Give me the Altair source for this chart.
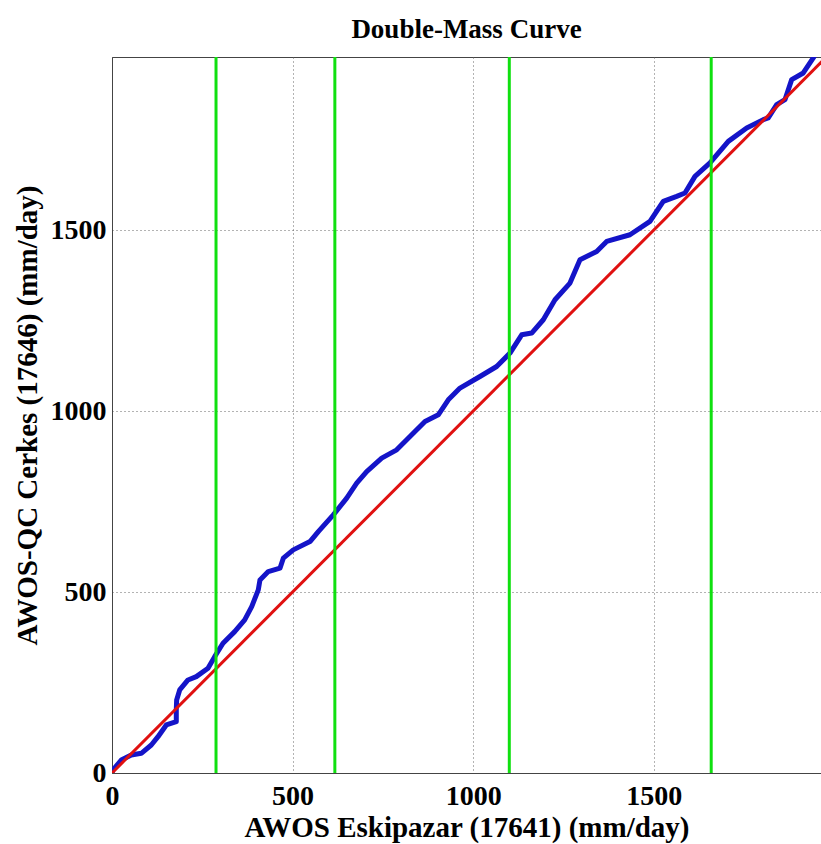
import altair as alt
import pandas as pd

# Cumulative precipitation (double-mass) readings
x_vals = [0, 2.8, 25.7, 53.4, 81.1, 108.8, 127.4, 150.3, 178, 178, 179, 187.4, 210.4, 233.4,
          265.8, 284.3, 307.3, 339.7, 367.4, 386.8, 405, 409.7, 432.7, 465.1, 474.3, 501.9,
          548.2, 571.2, 612.7, 649.8, 677.5, 705.1, 746.7, 788.2, 825, 866.6, 903.4, 931.1,
          963.5, 1018.8, 1065, 1101.9, 1134.3, 1162, 1194.1, 1226.5, 1268, 1295.7, 1341.9,
          1369.6, 1434.1, 1489.5, 1526.3, 1563.4, 1586.4, 1614.1, 1655.6, 1706.3, 1757.2,
          1803.2, 1817, 1840.3, 1863.2, 1881.8, 1913.9, 1941.6, 1955]
y_vals = [0, 8.3, 35.9, 49.8, 54.4, 77.4, 100.3, 132.7, 141.8, 174, 201.8, 229.4, 257, 266.2,
          289.4, 321.4, 358.5, 390.5, 422.9, 459.6, 505.8, 533.4, 556.4, 565.8, 593.4, 616.4,
          639.3, 667, 713.1, 759.3, 800.7, 832.8, 869.8, 892.8, 929.5, 971, 989.5, 1031,
          1063.3, 1095.4, 1123, 1160, 1210.6, 1215.3, 1252.1, 1307.4, 1353.5, 1417.9, 1440.8,
          1468.5, 1487, 1523.8, 1579, 1592.9, 1602.3, 1648.2, 1685.2, 1744.9, 1781.9,
          1804.9, 1809.6, 1846.3, 1860.1, 1915.4, 1933.9, 1975.5, 1998]

# 1:1 reference line and break-point markers
ref_x = [0, 2000]
ref_y = [0, 2000]
breaks = [288, 617, 1100, 1659]

x_ticks = [0, 500, 1000, 1500]
y_ticks = [0, 500, 1000, 1500]
X_MAX = 1963
Y_MAX = 1978

curve = pd.DataFrame({"x": x_vals, "y": y_vals, "order": list(range(len(x_vals)))})
ref = pd.DataFrame({"x": ref_x, "y": ref_y})
brk = pd.DataFrame({"x": breaks})

FONT = "Liberation Serif"

xscale = alt.Scale(domain=[0, X_MAX], nice=False, zero=False)
yscale = alt.Scale(domain=[0, Y_MAX], nice=False, zero=False)

x_axis = alt.Axis(
    title="AWOS Eskipazar (17641) (mm/day)", values=x_ticks, format="d",
    grid=True, gridDash=[1, 3], gridColor="#666666", gridWidth=1,
    ticks=False, labelPadding=9, titlePadding=3,
    domainColor="#444444", labelFlush=False,
)
y_axis = alt.Axis(
    title="AWOS-QC Cerkes (17646) (mm/day)", values=y_ticks, format="d",
    grid=True, gridDash=[1, 3], gridColor="#666666", gridWidth=1,
    ticks=False, labelPadding=6, titlePadding=8,
    domainColor="#444444", labelFlush=False,
)

blue = alt.Chart(curve).mark_line(color="#1414c8", strokeWidth=5, clip=True, strokeJoin="round").encode(
    x=alt.X("x:Q", scale=xscale, axis=x_axis),
    y=alt.Y("y:Q", scale=yscale, axis=y_axis),
    order="order:Q",
)
red = alt.Chart(ref).mark_line(color="#e01010", strokeWidth=3, clip=True).encode(
    x=alt.X("x:Q", scale=xscale),
    y=alt.Y("y:Q", scale=yscale),
)
green = alt.Chart(brk).mark_rule(color="#10e010", strokeWidth=3).encode(
    x=alt.X("x:Q", scale=xscale),
)

chart = alt.layer(blue, red, green).properties(
    width=709, height=716,
    title=alt.TitleParams("Double-Mass Curve", font=FONT, fontSize=27, fontWeight="bold",
                          color="black", offset=12, anchor="middle"),
    autosize=alt.AutoSizeParams(type="none"),
    padding={"left": 112, "top": 57, "right": 0, "bottom": 71},
    background="white",
).configure_view(
    stroke="#444444", strokeWidth=1
).configure_axis(
    labelFont=FONT, labelFontSize=28, labelFontWeight="bold", labelColor="black",
    titleFont=FONT, titleFontSize=29, titleFontWeight="bold", titleColor="black",
)

chart.save("out.html", embed_options={"renderer": "svg", "actions": False})
